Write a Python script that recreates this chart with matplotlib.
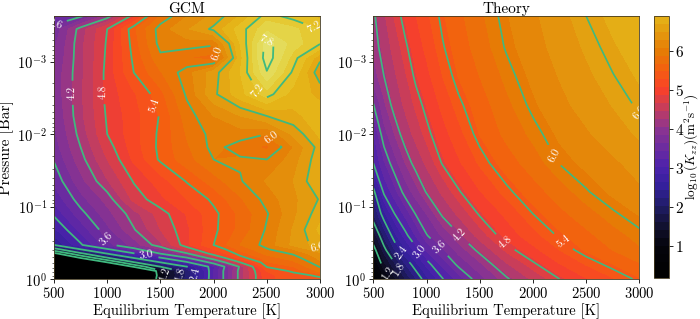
import numpy as np
import matplotlib
matplotlib.use('Agg')
import matplotlib.pyplot as plt
from matplotlib.colors import LinearSegmentedColormap, Normalize

plt.rcParams['font.family'] = 'cmr10'
plt.rcParams['mathtext.fontset'] = 'cm'
plt.rcParams['axes.formatter.use_mathtext'] = True
plt.rcParams['axes.unicode_minus'] = False

#----- GCM grid, log10(P) rows, one list per temperature column
gcm_temp = [500, 750, 1000, 1250, 1500, 1750, 2000, 2250, 2500, 2750, 3000]
gcm_logp = [-3.63, -3.45, -3.25, -3.05, -2.85, -2.55, -2.25, -2.0, -1.82, -1.65, -1.35, -1.1,
            -0.9, -0.68, -0.47, -0.41, -0.35, -0.29, -0.23, -0.17, -0.11, -0.05, 0]
gcm_500 = [3.5, 3.65, 3.75, 3.8, 3.85, 3.85, 3.8, 3.75, 3.7, 3.62, 3.45, 3.25, 3.05, 2.75, 2.4, 1.62, 0.4, -2, -2, -2, -2, -2, -2]
gcm_750 = [3.55, 4.3, 4.34, 4.34, 4.35, 4.36, 4.35, 4.28, 4.2, 4.12, 3.93, 3.72, 3.52, 3.27, 2.96, 2.4, 1.7, 0.6, -2, -2, -2, -2, -2]
gcm_1000 = [4.08, 4.8, 4.83, 4.85, 4.87, 4.87, 4.83, 4.8, 4.7, 4.6, 4.38, 4.08, 3.92, 3.74, 3.52, 2.95, 2.4, 1.75, 0.6, -2, -2, -2, -2]
gcm_1250 = [4.9, 5.55, 5.5, 5.45, 5.4, 5.17, 5.12, 5.12, 5.1, 5.04, 4.82, 4.66, 4.32, 4.18, 3.88, 3.5, 2.95, 2.4, 1.77, 0.75, -2, -2, -2]
gcm_1500 = [5.84, 6.1, 6.08, 5.95, 5.78, 5.53, 5.42, 5.45, 5.46, 5.44, 5.1, 4.95, 4.7, 4.6, 4.35, 4.0, 3.6, 2.95, 2.4, 1.8, 1.1, 1.0, 1.1]
gcm_1750 = [6.19, 6.37, 6.12, 5.8, 6.12, 6.04, 5.9, 5.82, 5.77, 5.72, 5.42, 5.2, 5.02, 4.96, 4.95, 4.65, 4.15, 3.55, 2.95, 2.4, 2.05, 2.05, 2.1]
gcm_2000 = [6.45, 6.65, 6.05, 5.7, 6.5, 6.55, 6.2, 6.08, 6.07, 6.0, 5.7, 5.45, 5.34, 5.35, 5.4, 5.2, 4.95, 4.4, 3.76, 3.15, 3.2, 3.2, 3.2]
gcm_2250 = [6.82, 7.1, 7.0, 6.92, 7.0, 6.93, 6.4, 6.1, 5.9, 6.03, 5.98, 5.77, 5.65, 5.66, 5.8, 5.65, 5.5, 5.3, 4.8, 4.25, 4.3, 4.3, 4.3]
gcm_2500 = [7.3, 7.55, 7.9, 7.95, 7.78, 7.3, 6.6, 6.0, 5.75, 6.0, 6.22, 6.08, 5.98, 6.03, 6.08, 5.98, 5.85, 5.7, 5.58, 5.42, 5.2, 5.15, 5.15]
gcm_2750 = [7.1, 7.45, 7.5, 7.3, 7.15, 6.9, 6.75, 6.45, 6.2, 6.3, 6.4, 6.35, 6.35, 6.42, 6.45, 6.2, 6.03, 5.9, 5.75, 5.6, 5.45, 5.3, 5.3]
gcm_3000 = [6.95, 7.19, 7.22, 6.65, 6.45, 6.75, 6.9, 6.85, 6.7, 6.75, 6.8, 6.62, 6.72, 6.85, 6.7, 6.55, 6.35, 6.25, 6.15, 6.02, 5.85, 5.45, 5.35]

#----- Theory grid, one list per log10(P) row
theory_temp = [500, 600, 700, 800, 900, 1000, 1150, 1300, 1500, 1750, 2000, 2250, 2500, 2750, 3000]
theory_logp = [-3.63, -3.2, -2.8, -2.4, -2.0, -1.6, -1.2, -0.9, -0.6, -0.4, -0.2, 0]
th_363 = [4.15, 4.42, 4.68, 4.89, 5.06, 5.23, 5.45, 5.62, 5.84, 6.07, 6.25, 6.42, 6.6, 6.75, 6.88]
th_320 = [4.08, 4.32, 4.54, 4.76, 4.95, 5.12, 5.38, 5.55, 5.78, 6.02, 6.2, 6.37, 6.52, 6.67, 6.8]
th_280 = [3.95, 4.2, 4.42, 4.63, 4.85, 5.0, 5.27, 5.48, 5.68, 5.93, 6.13, 6.3, 6.45, 6.59, 6.72]
th_240 = [3.58, 4.0, 4.3, 4.5, 4.7, 4.87, 5.12, 5.35, 5.57, 5.83, 6.05, 6.23, 6.37, 6.5, 6.63]
th_200 = [3.2, 3.75, 4.05, 4.33, 4.53, 4.73, 4.98, 5.2, 5.48, 5.73, 5.93, 6.12, 6.26, 6.4, 6.52]
th_160 = [3.0, 3.4, 3.75, 4.05, 4.3, 4.5, 4.82, 5.03, 5.3, 5.57, 5.78, 6.01, 6.13, 6.25, 6.37]
th_120 = [2.3, 3.05, 3.35, 3.7, 3.95, 4.22, 4.5, 4.77, 5.05, 5.34, 5.58, 5.78, 5.98, 6.12, 6.25]
th_090 = [2.0, 2.55, 3.0, 3.3, 3.62, 3.85, 4.25, 4.5, 4.83, 5.12, 5.4, 5.62, 5.8, 5.97, 6.1]
th_060 = [1.45, 2.05, 2.55, 2.92, 3.25, 3.58, 3.88, 4.17, 4.55, 4.93, 5.2, 5.43, 5.62, 5.8, 5.95]
th_040 = [1.05, 1.7, 2.2, 2.6, 2.92, 3.25, 3.6, 3.93, 4.27, 4.7, 5.0, 5.27, 5.5, 5.68, 5.85]
th_020 = [0.75, 1.33, 1.75, 2.2, 2.55, 2.88, 3.3, 3.66, 4.0, 4.42, 4.75, 5.05, 5.28, 5.47, 5.65]
th_000 = [0.3, 0.9, 1.35, 1.8, 2.2, 2.55, 2.98, 3.32, 3.75, 4.16, 4.5, 4.8, 5.05, 5.25, 5.45]

gcm_z = np.column_stack([gcm_500, gcm_750, gcm_1000, gcm_1250, gcm_1500, gcm_1750,
                         gcm_2000, gcm_2250, gcm_2500, gcm_2750, gcm_3000])
theory_z = np.vstack([th_363, th_320, th_280, th_240, th_200, th_160,
                      th_120, th_090, th_060, th_040, th_020, th_000])

#----- colormap anchors
vmin, vmax = 0.18, 8.1
anchors = [(0.18, '#000000'), (1.0, '#05050c'), (1.5, '#121130'), (2.0, '#201c66'),
           (2.5, '#33209a'), (3.0, '#4c22ac'), (3.5, '#6a2ba0'), (4.0, '#8c3490'),
           (4.5, '#c23d60'), (5.0, '#f8402a'), (5.5, '#f45f10'), (6.0, '#e67b05'),
           (6.5, '#e39b0f'), (6.9, '#e5b418'), (7.2, '#e6c428'), (7.6, '#e4d850'), (8.1, '#e6e67c')]
cmap = LinearSegmentedColormap.from_list('kzz', [((v - vmin) / (vmax - vmin), c) for v, c in anchors], N=512)
cmap.set_under('black')
norm = Normalize(vmin, vmax)

line_col = '#3fb97f'
W, H = 700., 319.
fig = plt.figure(figsize=(7, 3.19), dpi=100)
ax1 = fig.add_axes([54 / W, 1 - 279 / H, 266 / W, 263 / H])
ax2 = fig.add_axes([373.3 / W, 1 - 279 / H, 266 / W, 263 / H])
cax = fig.add_axes([654 / W, 1 - 277.5 / H, 15 / W, 261.5 / H])

cf1 = ax1.contourf(gcm_temp, gcm_logp, gcm_z, levels=np.arange(0.2, 8.3, 0.2), cmap=cmap, norm=norm, extend='min')
cs1 = ax1.contour(gcm_temp, gcm_logp, gcm_z, levels=np.arange(0.6, 8.0, 0.6), colors=line_col, linewidths=1.3)
cf2 = ax2.contourf(theory_temp, theory_logp, theory_z, levels=np.linspace(0.18, 6.9, 34), cmap=cmap, norm=norm)
cs2 = ax2.contour(theory_temp, theory_logp, theory_z, levels=np.arange(1.2, 7.0, 0.6), colors=line_col, linewidths=1.2)

gcm_labels = [(688, -2.57), (948, -2.58), (1480, -2.42), (2085, -3.15), (2468, -3.32), (2380, -2.57),
              (2950, -3.48), (2560, -1.98), (995, -0.55), (1370, -0.335), (1540, -0.06), (1690, -0.06),
              (1825, -0.06), (2963, -0.38), (510, -3.52)]
theory_labels = [(2944, -2.17), (2207, -1.71), (2286, -0.52), (1747, -0.52), (1315, -0.6), (1120, -0.44),
                 (939, -0.38), (766, -0.36), (735, -0.13), (630, -0.07)]
ax1.clabel(cs1, fmt='%.1f', fontsize=8, colors='white', manual=gcm_labels)
ax2.clabel(cs2, fmt='%.1f', fontsize=8, colors='white', manual=theory_labels)

minor = [np.log10(k * 10.**n) for n in (-4, -3, -2, -1) for k in range(2, 10)]
for ax, title in ((ax1, 'GCM'), (ax2, 'Theory')):
    ax.set_xlim(500, 3000)
    ax.set_ylim(0, -3.63)
    ax.set_xticks([500, 1000, 1500, 2000, 2500, 3000])
    ax.set_yticks([-3, -2, -1, 0])
    ax.set_yticklabels([r'$10^{-3}$', r'$10^{-2}$', r'$10^{-1}$', r'$10^{0}$'])
    ax.set_yticks([m for m in minor if -3.63 < m < 0], minor=True)
    ax.tick_params(labelsize=10.5, length=3, width=0.6, pad=2)
    ax.tick_params(which='minor', length=1.5, width=0.4)
    ax.set_title(title, fontsize=11, pad=2.5)
    ax.set_xlabel('Equilibrium Temperature [K]', fontsize=10.5, labelpad=2)
    for sp in ax.spines.values():
        sp.set_linewidth(0.6)
        sp.set_color('#443a20')
ax1.set_ylabel('Pressure [Bar]', fontsize=11, labelpad=2)

cb = fig.colorbar(cf2, cax=cax)
cb.set_ticks([1, 2, 3, 4, 5, 6])
cb.ax.tick_params(labelsize=11, length=3, width=0.6, pad=1.5)
cb.outline.set_linewidth(0.6)
cb.outline.set_edgecolor('#443a20')
cb.set_label(r'$\log_{10}(K_{zz})(\mathrm{m^2 s^{-1}})$', fontsize=9.5, labelpad=-1)

fig.savefig('out.png', dpi=100)
